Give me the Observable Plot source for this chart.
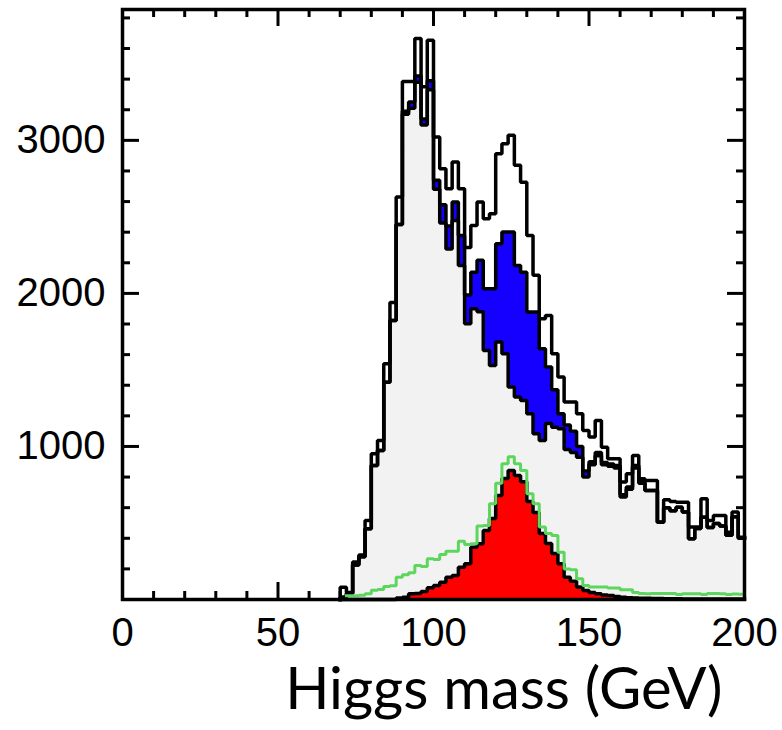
<!DOCTYPE html>
<html><head><meta charset="utf-8">
<script src="https://cdn.jsdelivr.net/npm/d3@7"></script>
<script src="https://cdn.jsdelivr.net/npm/@observablehq/plot@0.6"></script>
<style>body{margin:0;background:#fff}</style>
</head><body><div id="chart"></div>
<script>
// ---- data (2 GeV bins, left edges) ----
const binStart = [70,72,74,76,78,80,82,84,86,88,90,92,94,96,98,100,102,104,106,108,110,112,114,116,118,120,122,124,126,128,130,132,134,136,138,140,142,144,146,148,150,152,154,156,158,160,162,164,166,168,170,172,174,176,178,180,182,184,186,188,190,192,194,196,198];
const lastEdge = 200;
const totalCounts = [80,45,245,290,516,952,1039,1540,1940,2630,3385,3385,3665,3350,3654,3022,2815,2684,2859,2684,2300,2444,2597,2488,2521,2913,2978,3033,2837,2727,2379,2118,1835,1856,1606,1453,1290,1290,1214,1105,1061,1170,995,920,920,767,821,941,789,778,778,505,651,640,636,636,473,473,658,516,549,549,440,571,407];
const blueTop = [15,40,225,280,462,876,974,1420,1823,2450,3190,3250,3420,3140,3390,2740,2580,2440,2597,2379,1990,2139,2216,2031,2031,2325,2401,2401,2183,2139,1878,1878,1639,1519,1370,1214,1140,1100,1000,840,900,960,895,885,875,685,735,875,770,712,712,505,600,580,603,571,397,464,538,471,497,480,420,540,400];
const greyBkg = [15,40,225,280,462,876,974,1420,1823,2450,3170,3210,3380,3100,3330,2680,2460,2290,2477,2183,1802,1900,1880,1627,1529,1682,1606,1388,1323,1301,1214,1083,1039,1150,1126,1116,980,960,930,800,880,940,880,870,860,669,720,860,760,712,712,505,600,580,603,571,397,464,538,471,497,480,420,540,400];
const greenLine = [0,25,25,28,37,60,65,85,90,146,161,175,222,215,266,262,294,316,316,380,360,364,480,484,625,760,887,932,887,843,691,625,473,431,418,309,200,195,135,92,81,81,81,75,75,63,63,45,40,38,39,39,39,39,33,37,37,37,33,39,39,37,33,36,35];
const redSignal = [0,0,0,0,0,0,0,0,0,10,15,37,40,52,76,92,113,146,157,211,233,342,364,451,530,680,790,843,810,770,640,569,431,366,300,233,146,120,81,59,45,37,30,26,20,15,12,10,8,8,6,6,5,5,5,4,4,4,4,3,3,3,3,3,3];

const xLabelTicks = [0,50,100,150,200];
const xMajorTicks = [50,100,150];
const xMinorTicks = [10,20,30,40,60,70,80,90,110,120,130,140,160,170,180,190];
const yLabelTicks = [1000,2000,3000];
const yMinorTicks = [200,400,600,800,1200,1400,1600,1800,2200,2400,2600,2800,3200,3400,3600,3800];
const xTitle = "Higgs mass (GeV)";

// ---- layout ----
const W = 782, H = 730, mL = 122, mR = 38, mT = 9, mB = 131;
const fw = W - mL - mR, fh = H - mT - mB;
const minorLen = 8, majorLen = 17, lw = 3.5;
const yMax = 3855;

function steps(values, lead0 = true) {
  const pts = [];
  if (lead0) pts.push({x: binStart[0], y: 0});
  binStart.forEach((x, i) => pts.push({x, y: values[i]}));
  pts.push({x: lastEdge, y: values[values.length - 1]});
  return pts;
}
const lineOpts = {x: "x", y: "y", curve: "step-after", stroke: "black", strokeWidth: lw, strokeLinejoin: "miter", strokeLinecap: "square"};

const tickOpts = {stroke: "black", strokeWidth: 3};
const chart = Plot.plot({
  width: W, height: H,
  marginLeft: mL, marginRight: mR, marginTop: mT, marginBottom: mB,
  x: {domain: [0, 200], label: null},
  y: {domain: [0, yMax], label: null},
  style: {fontFamily: "'Liberation Sans', Arial, sans-serif", background: "white", color: "black", overflow: "visible"},
  marks: [
    // inward ticks on all four sides
    Plot.tickX(xMinorTicks, {x: d => d, insetTop: fh - minorLen, ...tickOpts}),
    Plot.tickX(xMinorTicks, {x: d => d, insetBottom: fh - minorLen, ...tickOpts}),
    Plot.tickX(xMajorTicks, {x: d => d, insetTop: fh - majorLen, ...tickOpts}),
    Plot.tickX(xMajorTicks, {x: d => d, insetBottom: fh - majorLen, ...tickOpts}),
    Plot.tickY(yMinorTicks, {y: d => d, insetRight: fw - minorLen, ...tickOpts}),
    Plot.tickY(yMinorTicks, {y: d => d, insetLeft: fw - minorLen, ...tickOpts}),
    Plot.tickY(yLabelTicks, {y: d => d, insetRight: fw - majorLen, ...tickOpts}),
    Plot.tickY(yLabelTicks, {y: d => d, insetLeft: fw - majorLen, ...tickOpts}),
    // fills
    Plot.areaY(steps(totalCounts), {x: "x", y: "y", curve: "step-after", fill: "white"}),
    Plot.areaY(steps(blueTop), {x: "x", y: "y", curve: "step-after", fill: "#1500ff"}),
    Plot.areaY(steps(greyBkg), {x: "x", y: "y", curve: "step-after", fill: "#f2f2f2"}),
    Plot.areaY(steps(redSignal), {x: "x", y: "y", curve: "step-after", fill: "#ff0000"}),
    // outlines
    Plot.line(steps(totalCounts), lineOpts),
    Plot.line(steps(blueTop), lineOpts),
    Plot.line(steps(greyBkg), lineOpts),
    Plot.line(steps(redSignal), lineOpts),
    Plot.line(steps(greenLine, false).filter(d => d.y > 0), {...lineOpts, stroke: "#5cd65c", strokeWidth: 3}),
    // axes labels
    Plot.axisX({ticks: xLabelTicks, tickSize: 0, tickPadding: 18, fontSize: 40, label: null, tickFormat: d => String(d)}),
    Plot.axisY({ticks: yLabelTicks, tickSize: 0, tickPadding: 17, fontSize: 40, label: null, tickFormat: d => String(d)}),
    Plot.frame({stroke: "black", strokeWidth: lw}),
    Plot.text([xTitle], {frameAnchor: "bottom-right", text: d => d, textAnchor: "end", dx: -22, dy: 109, fontSize: 58, fontFamily: "Lato, 'Open Sans', sans-serif"})
  ]
});
document.getElementById("chart").appendChild(chart);
</script>
</body></html>
